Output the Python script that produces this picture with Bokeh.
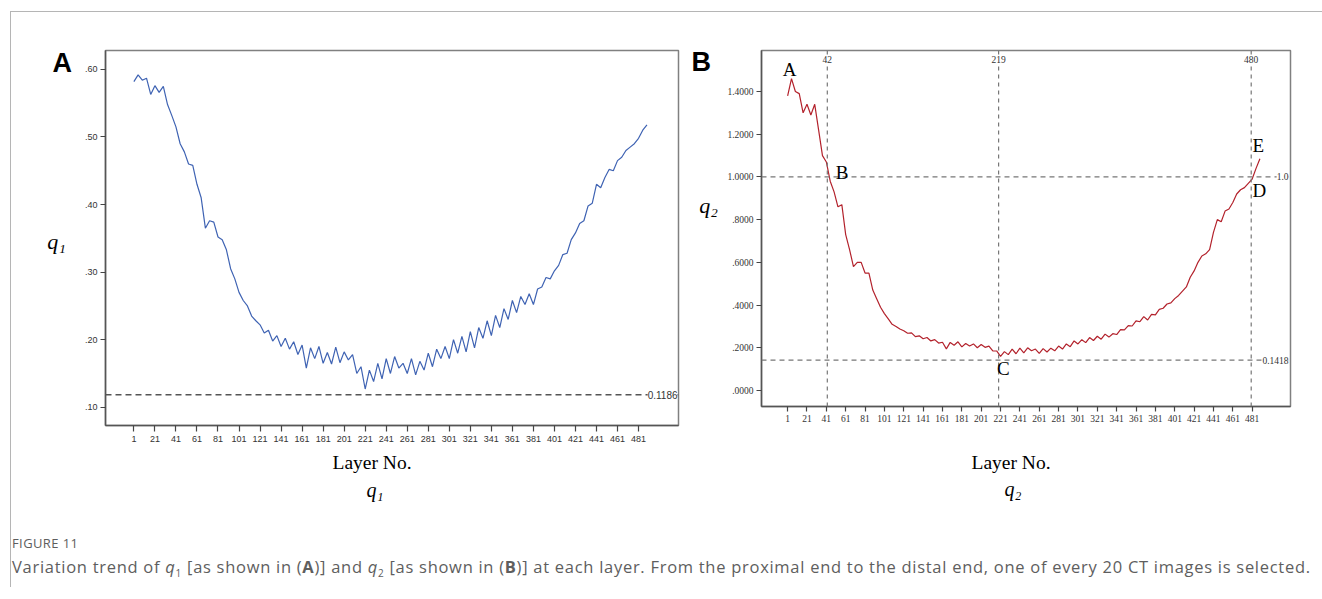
from bokeh.plotting import figure
from bokeh.models import Label, Span, FixedTicker, Div, CustomJSTickFormatter, Title
from bokeh.layouts import row, column
from bokeh.core.properties import value
from bokeh.embed import file_html
from bokeh.resources import INLINE

# ---------------- data ----------------
layers_a = list(range(1, 490, 4))
q1 = [0.582, 0.592, 0.584, 0.587, 0.563, 0.576, 0.566, 0.575, 0.548, 0.532,
      0.515, 0.490, 0.478, 0.460, 0.458, 0.430, 0.410, 0.365, 0.376, 0.374,
      0.352, 0.348, 0.333, 0.305, 0.290, 0.270, 0.258, 0.250, 0.235, 0.228,
      0.222, 0.210, 0.214, 0.198, 0.206, 0.190, 0.202, 0.186, 0.197, 0.178,
      0.192, 0.158, 0.188, 0.172, 0.190, 0.165, 0.181, 0.164, 0.189, 0.166,
      0.182, 0.170, 0.178, 0.150, 0.160, 0.127, 0.155, 0.138, 0.165, 0.142,
      0.172, 0.150, 0.175, 0.158, 0.165, 0.150, 0.172, 0.148, 0.168, 0.155,
      0.180, 0.160, 0.186, 0.172, 0.190, 0.172, 0.200, 0.180, 0.205, 0.182,
      0.212, 0.188, 0.218, 0.202, 0.228, 0.206, 0.236, 0.218, 0.246, 0.230,
      0.258, 0.240, 0.264, 0.252, 0.268, 0.252, 0.275, 0.278, 0.292, 0.290,
      0.302, 0.310, 0.326, 0.328, 0.348, 0.358, 0.372, 0.376, 0.398, 0.402,
      0.430, 0.425, 0.440, 0.452, 0.450, 0.465, 0.470, 0.480, 0.485, 0.490,
      0.498, 0.510, 0.518]

layers_b = list(range(1, 490, 4))
q2 = [1.38, 1.46, 1.40, 1.39, 1.30, 1.34, 1.29, 1.34, 1.22, 1.10,
      1.07, 0.98, 0.93, 0.86, 0.87, 0.73, 0.66, 0.58, 0.60, 0.60,
      0.55, 0.55, 0.47, 0.43, 0.39, 0.36, 0.335, 0.31, 0.30, 0.288,
      0.28, 0.268, 0.27, 0.252, 0.256, 0.242, 0.248, 0.232, 0.238, 0.222,
      0.226, 0.195, 0.225, 0.212, 0.228, 0.204, 0.22, 0.208, 0.218, 0.2,
      0.215, 0.202, 0.208, 0.185, 0.185, 0.16, 0.182, 0.168, 0.194, 0.172,
      0.198, 0.176, 0.2, 0.186, 0.194, 0.174, 0.196, 0.18, 0.198, 0.186,
      0.208, 0.194, 0.218, 0.205, 0.232, 0.218, 0.238, 0.224, 0.248, 0.234,
      0.254, 0.24, 0.264, 0.25, 0.266, 0.262, 0.285, 0.284, 0.304, 0.302,
      0.326, 0.322, 0.346, 0.33, 0.356, 0.354, 0.38, 0.385, 0.405, 0.41,
      0.43, 0.445, 0.465, 0.485, 0.53, 0.56, 0.60, 0.63, 0.64, 0.66,
      0.74, 0.80, 0.79, 0.84, 0.85, 0.88, 0.92, 0.94, 0.95, 0.97,
      0.99, 1.04, 1.085]

x_ticks = list(range(1, 482, 20))
y_ticks_a = [0.1, 0.2, 0.3, 0.4, 0.5, 0.6]
y_labels_a = [".10", ".20", ".30", ".40", ".50", ".60"]
y_ticks_b = [0.0, 0.2, 0.4, 0.6, 0.8, 1.0, 1.2, 1.4]
y_labels_b = [".0000", ".2000", ".4000", ".6000", ".8000", "1.0000", "1.2000", "1.4000"]

ref_a = 0.1186
ref_a_label = "0.1186"
ref_b_h = [1.0, 0.1418]
ref_b_h_labels = ["1.0", "0.1418"]
ref_b_v = [42, 219, 480]
ref_b_v_labels = ["42", "219", "480"]
point_names = ["A", "B", "C", "D", "E"]

SERIF = "Liberation Serif"
SANS = "Liberation Sans"

TOP = 38
BOTTOM = 100
YR_A = (0.073, 0.628)
YR_B = (-0.075, 1.592)

fmt_code = """
for (let i = 0; i < vals.length; i++) {
  if (Math.abs(vals[i] - tick) < 1e-6) return labels[i];
}
return '';
"""


def style_axes(p, font, size, ylab_standoff, xlab_standoff, xtick_out):
    for ax in (p.xaxis[0], p.yaxis[0]):
        ax.axis_line_color = "#555555"
        ax.axis_line_width = 1.5
        ax.major_tick_line_color = "#444444"
        ax.major_tick_line_width = 1.2
        ax.major_tick_in = 0
        ax.minor_tick_line_color = None
        ax.major_label_text_font = font
        ax.major_label_text_font_size = size
        ax.major_label_text_color = "#333333"
    p.yaxis[0].major_tick_out = 5
    p.yaxis[0].major_label_standoff = ylab_standoff
    p.xaxis[0].major_tick_out = xtick_out
    p.xaxis[0].major_label_standoff = xlab_standoff
    p.xgrid.grid_line_color = None
    p.ygrid.grid_line_color = None


def text_panel(width, height, y_range):
    t = figure(width=width, height=height, x_range=(0, width), y_range=y_range,
               output_backend="svg", toolbar_location=None, title=None,
               x_axis_location=None, y_axis_location=None,
               min_border_left=0, min_border_right=0, min_border_top=TOP, min_border_bottom=BOTTOM,
               background_fill_color="white", border_fill_color="white", outline_line_color=None)
    t.xgrid.grid_line_color = None
    t.ygrid.grid_line_color = None
    return t


def bottom_titles(p, off1, so1, off2, so2, qtext):
    p.add_layout(Title(text="Layer No.", align="left", offset=off1, standoff=so1,
                       text_font=SERIF, text_font_size="19.5px", text_font_style="normal",
                       text_color="black"), "below")
    p.add_layout(Title(text=qtext, align="left", offset=off2, standoff=so2,
                       vertical_align="top",
                       text_font=SERIF, text_font_size="20px", text_font_style="italic",
                       text_color="black"), "below")


# ---------------- panel A ----------------
H_A = TOP + 375 + BOTTOM
pa = figure(width=615, height=H_A, x_range=(-26, 519), y_range=YR_A,
            output_backend="svg", toolbar_location=None, title=None,
            min_border_left=30, min_border_right=12, min_border_top=TOP, min_border_bottom=BOTTOM,
            background_fill_color="white", border_fill_color="white",
            outline_line_color="#808080", outline_line_width=1.5)
pa.xaxis.ticker = FixedTicker(ticks=x_ticks)
pa.yaxis.ticker = FixedTicker(ticks=y_ticks_a)
pa.yaxis.formatter = CustomJSTickFormatter(args=dict(vals=y_ticks_a, labels=y_labels_a), code=fmt_code)
style_axes(pa, SANS, "9px", 3, 4, 6)

pa.add_layout(Span(location=ref_a, dimension="width", line_color="#555555",
                   line_width=1.5, line_dash="6 4"))
pa.line(layers_a, q1, line_color="#3f63b3", line_width=1.2)
pa.add_layout(Label(x=519, y=ref_a, x_offset=-1, text=ref_a_label, text_align="right",
                    text_baseline="middle", text_font=SANS, text_font_size="10px",
                    text_color="#333333", background_fill_color="white"))
bottom_titles(pa, 227, 11, 261, 0, "q₁")

ta = text_panel(64, H_A, YR_A)
ta.text(x=[41], y=[0.609], text=["A"], text_font=value(SANS), text_font_style="bold",
        text_font_size="27px", text_color="black", text_baseline="middle", text_align="left")
ta.text(x=[45], y=[0.345], text=["q₁"], text_font=value(SERIF), text_font_style="italic",
        text_font_size="22px", text_color="black", text_baseline="middle", text_align="center")

# ---------------- panel B ----------------
H_B = TOP + 356 + BOTTOM
pb = figure(width=580, height=H_B, x_range=(-26, 520.6), y_range=YR_B,
            output_backend="svg", toolbar_location=None, title=None,
            min_border_left=41, min_border_right=10, min_border_top=TOP, min_border_bottom=BOTTOM,
            background_fill_color="white", border_fill_color="white",
            outline_line_color="#808080", outline_line_width=1.5)
pb.xaxis.ticker = FixedTicker(ticks=x_ticks)
pb.yaxis.ticker = FixedTicker(ticks=y_ticks_b)
pb.yaxis.formatter = CustomJSTickFormatter(args=dict(vals=y_ticks_b, labels=y_labels_b), code=fmt_code)
style_axes(pb, SERIF, "9.5px", 3, 3, 5)

for v in ref_b_v:
    pb.add_layout(Span(location=v, dimension="height", line_color="#777777",
                       line_width=1.2, line_dash="4 4"))
for h in ref_b_h:
    pb.add_layout(Span(location=h, dimension="width", line_color="#777777",
                       line_width=1.2, line_dash="5 4"))
pb.line(layers_b, q2, line_color="#b3222c", line_width=1.2)

for v, lab in zip(ref_b_v, ref_b_v_labels):
    pb.add_layout(Label(x=v, y=1.552, text=lab, text_align="center", text_baseline="middle",
                        text_font=SERIF, text_font_size="9.5px", text_color="#333333",
                        background_fill_color="white"))
for h, lab in zip(ref_b_h, ref_b_h_labels):
    pb.add_layout(Label(x=520.6, y=h, x_offset=-2, text=lab, text_align="right",
                        text_baseline="middle", text_font=SERIF, text_font_size="9.5px",
                        text_color="#333333", background_fill_color="white"))

letter_x = [3, 50.6, 224, 481.4, 481.4]
letter_y = [1.505, 1.023, 0.102, 0.935, 1.145]
letter_align = ["center", "left", "center", "left", "left"]
for name, lx, ly, la in zip(point_names, letter_x, letter_y, letter_align):
    pb.add_layout(Label(x=lx, y=ly, text=name, text_align=la, text_baseline="middle",
                        text_font=SERIF, text_font_size="19px", text_color="black"))

bottom_titles(pb, 210, 50, 243, -39, "q₂")

tb = text_panel(30, H_B, YR_B)
tb.text(x=[1], y=[1.538], text=["B"], text_font=value(SANS), text_font_style="bold",
        text_font_size="27px", text_color="black", text_baseline="middle", text_align="left")
tb.text(x=[18], y=[0.864], text=["q₂"], text_font=value(SERIF), text_font_style="italic",
        text_font_size="22px", text_color="black", text_baseline="middle", text_align="center")

# ---------------- caption ----------------
cap_html = (
    '<div style="font-family:\'Open Sans\',sans-serif;color:#5e5e5e;">'
    '<div style="margin-top:10px;font-size:13px;line-height:16px;letter-spacing:0.4px;">FIGURE 11</div>'
    '<div style="margin-top:6px;font-size:16.5px;line-height:20px;letter-spacing:0.72px;white-space:nowrap;">'
    'Variation trend of <i>q</i><sub style="font-size:10px">1</sub> [as shown in (<b>A</b>)] and '
    '<i>q</i><sub style="font-size:10px">2</sub> [as shown in (<b>B</b>)] at each layer. '
    'From the proximal end to the distal end, one of every 20 CT images is selected.</div>'
    '</div>'
)
cap = Div(text=cap_html, width=1299, height=62, margin=(0, 0, 0, 1))

layout = column(row(ta, pa, tb, pb), cap, margin=(11, 0, 0, 10),
                styles={"border-top": "1px solid #b5b5b5", "border-left": "1px solid #b5b5b5",
                        "padding-right": "12px"})

open("out.html", "w").write(file_html(layout, INLINE))
